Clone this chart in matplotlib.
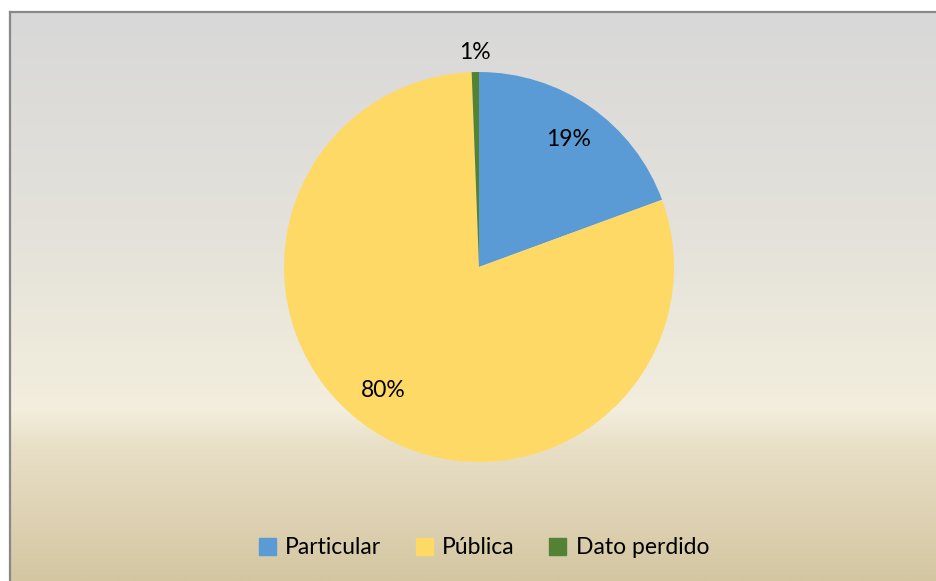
import matplotlib.pyplot as plt
import numpy as np
from matplotlib.colors import LinearSegmentedColormap
from matplotlib.patches import Rectangle

categories = ['Particular', 'Pública', 'Dato perdido']
values = [19.4, 80.0, 0.6]
colors = ['#5B9BD5', '#FFD966', '#548235']

plt.rcParams['font.family'] = ['Lato', 'DejaVu Sans']

W, H = 936, 581
dpi = 100
fig = plt.figure(figsize=(W / dpi, H / dpi), dpi=dpi)
fig.patch.set_facecolor('white')

# chart area background (gradient), border only visible at top/left
x0, y0 = 9.5 / W, 1 - 11.5 / H
bg = fig.add_axes([x0, 0, 1 - x0, y0])
bg.set_axis_off()
grad = LinearSegmentedColormap.from_list('parch', [
    (0.0, '#D8D8D8'),
    (0.40, '#E4E2DA'),
    (0.70, '#F3EEDD'),
    (0.76, '#E9E0C8'),
    (1.0, '#D4C6A1'),
])
g = np.linspace(0, 1, 256).reshape(-1, 1)
bg.imshow(g, aspect='auto', cmap=grad, extent=[0, 1, 0, 1])
bg.set_xlim(0, 1)
bg.set_ylim(0, 1)
fig.add_artist(plt.Line2D([x0, 1], [y0, y0], color='#888888', lw=1.6, transform=fig.transFigure))
fig.add_artist(plt.Line2D([x0, x0], [0, y0], color='#888888', lw=1.6, transform=fig.transFigure))

# pie axes: centre (479, 267), radius 195 px
cx, cy, r = 479, 267, 195
ax = fig.add_axes([(cx - r) / W, 1 - (cy + r) / H, 2 * r / W, 2 * r / H])
ax.set_axis_off()
wedges, _ = ax.pie(values, colors=colors, startangle=90, counterclock=False,
                   radius=1, wedgeprops=dict(linewidth=0))
ax.set_xlim(-1, 1)
ax.set_ylim(-1, 1)

for w, v in zip(wedges, values):
    ang = np.deg2rad((w.theta1 + w.theta2) / 2)
    if v > 50:
        ang -= np.deg2rad(4)
    d = 0.8 if v > 5 else 1.10
    ax.text(d * np.cos(ang), d * np.sin(ang), '%.0f%%' % v,
            ha='center', va='center', fontsize=16.5, color='black')

handles = [Rectangle((0, 0), 1, 1, color=c) for c in colors]
fig.legend(handles, categories, loc='center', bbox_to_anchor=(484 / W, 1 - 548 / H),
           ncol=3, frameon=False, fontsize=16.5, handlelength=0.75, handleheight=0.75,
           handletextpad=0.4, columnspacing=1.5)

fig.savefig('out.png', dpi=dpi)
